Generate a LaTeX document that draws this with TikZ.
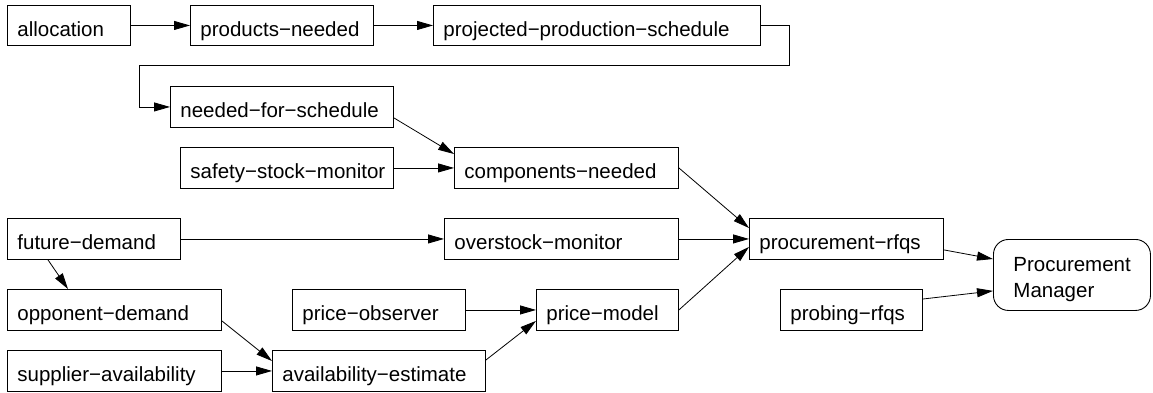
\documentclass[tikz,border=0pt]{standalone}
\usepackage{fontspec}
\setmainfont{Liberation Sans}
\usetikzlibrary{arrows.meta}
\tikzset{
  box/.style={draw, line width=0.9pt, anchor=north west, inner xsep=10pt, inner ysep=0pt,
    text height=22pt, text depth=0pt, align=left, font=\fontsize{20.5}{26}\selectfont},
  mgr/.style={draw, line width=0.9pt, anchor=north west, rounded corners=15pt, inner xsep=20pt, inner ysep=0pt,
    text height=15pt, text depth=22pt, align=left, font=\fontsize{20.5}{26}\selectfont},
  arr/.style={-{Triangle[length=16pt,width=9pt]}, line width=0.8pt}
}
\begin{document}
\begin{tikzpicture}[x=1pt,y=-1pt]
\useasboundingbox (0,0) rectangle (1153,392);
\node[box, text width=103pt, minimum height=40pt] (alloc) at (7,5) {allocation};
\node[box, text width=163pt, minimum height=40pt] (prodneed) at (190,5) {products−needed};
\node[box, text width=307pt, minimum height=40pt] (projsched) at (433,5) {projected−production−schedule};
\node[box, text width=203pt, minimum height=41pt] (needsched) at (170,86) {needed−for−schedule};
\node[box, text width=193pt, minimum height=41pt] (safety) at (180,147) {safety−stock−monitor};
\node[box, text width=204pt, minimum height=41pt] (compneed) at (454,147) {components−needed};
\node[box, text width=153pt, minimum height=41pt] (future) at (7,218) {future−demand};
\node[box, text width=214pt, minimum height=41pt] (overstock) at (444,218) {overstock−monitor};
\node[box, text width=174pt, minimum height=41pt] (procrfq) at (749,218) {procurement−rfqs};
\node[box, text width=122pt, minimum height=41pt] (probing) at (780,289) {probing−rfqs};
\node[box, text width=194pt, minimum height=41pt] (opponent) at (7,289) {opponent−demand};
\node[box, text width=153pt, minimum height=41pt] (priceobs) at (292,289) {price−observer};
\node[box, text width=122pt, minimum height=41pt] (pricemodel) at (536,289) {price−model};
\node[box, text width=194pt, minimum height=41pt] (supplier) at (7,350) {supplier−availability};
\node[box, text width=193pt, minimum height=41pt] (availest) at (272,350) {availability−estimate};
\node[mgr, text width=117pt, minimum height=71pt] (manager) at (993,239) {Procurement\\Manager};

\coordinate (r) at (789,65);
\coordinate (l) at (139,65);

\draw[arr] (alloc) -- (prodneed);
\draw[arr] (prodneed) -- (projsched);
\draw[arr] (projsched.east) -| (r) -- (l) |- (needsched.west);
\draw[arr] ([yshift=10pt]needsched.south east) -- ([yshift=-7pt]compneed.north west);
\draw[arr] (safety) -- (compneed);
\draw[arr] (future) -- (overstock);
\draw[arr] ([xshift=41pt]future.south west) -- ([xshift=61pt]opponent.north west);
\draw[arr] (compneed.east) -- ([yshift=-10pt]procrfq.north west);
\draw[arr] (overstock) -- (procrfq);
\draw[arr] (pricemodel.east) -- ([yshift=13pt]procrfq.south west);
\draw[arr] (priceobs) -- (pricemodel);
\draw[arr] ([yshift=10pt]opponent.south east) -- ([yshift=-11pt]availest.north west);
\draw[arr] (supplier) -- (availest);
\draw[arr] ([yshift=-10pt]availest.north east) -- ([yshift=10pt]pricemodel.south west);
\draw[arr] ([yshift=10pt]procrfq.south east) -- ([yshift=-20pt]manager.north west);
\draw[arr] ([yshift=-10pt]probing.north east) -- ([yshift=20pt]manager.south west);
\end{tikzpicture}
\end{document}
